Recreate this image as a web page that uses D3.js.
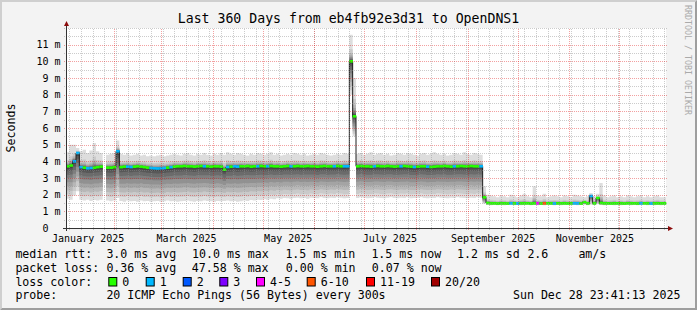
<!DOCTYPE html>
<html><head><meta charset="utf-8">
<script src="https://cdn.jsdelivr.net/npm/d3@7"></script>
<style>
html,body{margin:0;padding:0;background:#f3f3f3;}
svg{display:block;}
text{font-family:"DejaVu Sans Mono",monospace;}
</style></head><body>
<svg id="c" width="697" height="310"></svg>
<script>
// ---------------- data ----------------
const title = "Last 360 Days from eb4fb92e3d31 to OpenDNS1";
const yLabel = "Seconds";
const watermark = "RRDTOOL / TOBI OETIKER";
const endTime = "2025-12-28T23:41:13Z";
const spanDays = 360;
const bucketDays = 2;
const monthLabels = ["January 2025","March 2025","May 2025","July 2025","September 2025","November 2025"];
const monthLabelDates = ["2025-01-16","2025-03-16","2025-05-16","2025-07-16","2025-09-16","2025-11-16"];
const yTicks = [0,1,2,3,4,5,6,7,8,9,10,11];
const yTickLabels = ["0","1 m","2 m","3 m","4 m","5 m","6 m","7 m","8 m","9 m","10 m","11 m"];

// median rtt per 2-day bucket (ms), null = no data
const median = [
3.70,3.75,4.00,4.50,3.65,3.62,3.58,3.60,3.62,3.65,
3.68,null,3.62,3.62,3.65,4.60,3.65,3.68,3.68,3.66,
3.68,3.70,3.68,3.65,3.62,3.60,3.58,3.57,3.58,3.60,
3.62,3.65,3.68,3.70,3.70,3.72,3.70,3.70,3.68,3.70,
3.72,3.70,3.70,3.68,3.70,3.70,3.68,3.50,3.66,3.68,
3.70,3.68,3.70,3.70,3.72,3.68,3.70,3.70,3.72,3.70,
3.70,3.72,3.70,3.70,3.68,3.70,3.72,3.70,3.70,3.72,
3.70,3.70,3.72,3.70,3.70,3.68,3.70,3.72,3.70,3.70,
3.70,3.72,3.70,3.70,3.70,10.0,6.70,3.70,3.72,3.70,
3.70,3.68,3.70,3.72,3.70,3.70,3.72,3.70,3.68,3.70,
3.70,3.72,3.70,3.68,3.66,3.68,3.70,3.70,3.68,3.66,
3.68,3.70,3.70,3.72,3.70,3.68,3.70,3.70,3.72,3.70,
3.70,3.72,3.70,3.70,3.70,1.84,1.50,1.48,1.48,1.47,
1.48,1.48,1.47,1.48,1.48,1.47,1.48,1.48,1.48,1.47,
1.48,1.48,1.47,1.48,1.48,1.48,1.47,1.48,1.48,1.48,
1.47,1.48,1.48,1.48,1.47,1.55,1.48,1.92,1.48,1.80,
1.50,1.48,1.48,1.47,1.48,1.48,1.48,1.47,1.48,1.48,
1.48,1.47,1.48,1.48,1.48,1.47,1.48,1.48,1.48,1.48];

// lost pings (of 20) per bucket
const loss = [
0,0,1,1,1,0,1,1,0,0, 0,0,0,0,0,1,0,0,1,1,
0,0,0,0,0,1,1,1,1,1, 0,1,0,0,0,0,0,0,0,0,
0,1,0,0,0,0,0,0,1,0, 1,1,0,0,0,0,0,1,0,0,
1,0,0,0,0,0,0,1,0,0, 0,0,0,0,0,0,0,0,0,0,
1,0,0,1,1,0,0,0,0,0, 0,0,1,0,0,0,0,0,0,0,
1,0,0,0,1,0,0,0,1,0, 0,0,0,0,0,0,1,0,0,0,
0,0,0,0,1,0,0,0,0,0, 0,0,0,1,0,1,0,0,0,0,
0,4,0,7,0,0,1,0,0,0, 0,0,1,1,0,0,0,1,0,0,
0,0,0,0,0,0,0,0,0,0, 0,0,1,0,0,1,0,0,0,0];

// slowest ping per bucket (ms)
const smokeTop = [
4.55,5.00,5.00,4.80,4.60,4.70,4.50,4.65,5.10,4.60,
4.50,null,4.40,4.45,4.50,5.25,4.45,4.40,4.50,4.35,
4.40,4.45,4.35,4.40,4.30,4.35,4.30,4.35,4.40,4.30,
4.35,4.40,4.45,4.40,4.35,4.45,4.50,4.40,4.35,4.45,
4.40,4.50,4.40,4.35,4.45,4.40,4.50,4.40,4.55,4.45,
4.40,4.50,4.45,4.40,4.35,4.45,4.40,4.50,4.45,4.40,
4.45,4.55,4.40,4.45,4.35,4.40,4.45,4.40,4.50,4.45,
4.40,4.45,4.35,4.40,4.45,4.40,4.50,4.45,4.40,4.35,
4.40,4.45,4.40,4.50,4.45,11.60,9.00,4.45,4.50,4.40,
4.45,4.55,4.40,4.45,4.50,4.40,4.45,4.35,4.40,4.50,
4.45,4.40,4.50,4.45,4.40,4.35,4.45,4.50,4.40,4.45,
4.55,4.45,4.40,4.45,4.35,4.40,4.50,4.45,4.40,4.55,
4.45,4.40,4.50,4.45,4.40,2.50,2.00,1.95,1.90,1.85,
1.95,1.90,1.85,2.00,1.90,1.85,1.95,2.05,1.90,1.85,
2.50,1.95,1.90,2.05,1.85,1.90,1.95,1.90,1.85,1.95,
1.90,1.85,2.00,1.95,1.90,1.85,1.90,2.10,1.90,2.05,
2.70,1.95,1.85,1.90,1.95,1.85,1.90,1.85,1.95,1.90,
1.85,1.90,1.95,1.85,1.90,1.85,1.90,1.95,1.85,1.85];

// fastest ping per bucket (ms)
const smokeBottom = [
1.75,1.70,1.95,2.20,1.70,1.65,1.70,1.62,1.68,1.65,
1.70,null,1.65,1.60,1.65,1.80,1.62,1.58,1.65,1.60,
1.62,1.58,1.65,1.60,1.62,1.58,1.60,1.62,1.58,1.60,
1.65,1.60,1.62,1.58,1.60,1.62,1.65,1.60,1.58,1.62,
1.60,1.65,1.62,1.60,1.58,1.62,1.60,1.62,1.65,1.60,
1.62,1.58,1.60,1.65,1.62,1.68,1.65,1.70,1.68,1.72,
1.70,1.75,1.72,1.78,1.75,1.80,1.78,1.75,1.80,1.82,
1.78,1.80,1.75,1.82,1.80,1.78,1.85,1.80,1.78,1.82,
1.80,1.85,1.82,1.78,1.80,8.00,5.50,1.80,1.85,1.82,
1.78,1.80,1.85,1.82,1.80,1.78,1.82,1.85,1.80,1.78,
1.82,1.80,1.85,1.78,1.80,1.82,1.85,1.80,1.78,1.82,
1.80,1.85,1.82,1.80,1.78,1.82,1.80,1.85,1.82,1.80,
1.78,1.82,1.80,1.85,1.82,1.45,1.38,1.36,1.38,1.36,
1.38,1.36,1.38,1.40,1.36,1.38,1.36,1.38,1.40,1.36,
1.38,1.36,1.38,1.36,1.40,1.38,1.36,1.38,1.36,1.38,
1.40,1.36,1.38,1.36,1.38,1.40,1.36,1.40,1.38,1.42,
1.38,1.36,1.38,1.40,1.36,1.38,1.36,1.38,1.40,1.36,
1.38,1.36,1.38,1.40,1.36,1.38,1.36,1.38,1.36,1.38];

// typical spread of the inner pings: share of the way from the median to the fastest (p2..p10) / slowest (p11..p19)
const lowerShape = [0.87,0.74,0.61,0.49,0.36,0.26,0.15,0.08,0.03];
const upperShape = [0.02,0.04,0.06,0.09,0.12,0.16,0.22,0.30,0.45];

const lossBins = ["0","1","2","3","4-5","6-10","11-19","20/20"];
const lossBinMax = [0,1,2,3,5,10,19,20];
const lossColors = ["#26ff00","#00b8ff","#0059ff","#7e00ff","#ff00ff","#ff5500","#ff0000","#a10000"];

const medianStats = ["3.0 ms avg","10.0 ms max","1.5 ms min","1.5 ms now","1.2 ms sd","2.6","am/s"];
const lossStats = ["0.36 % avg","47.58 % max","0.00 % min","0.07 % now"];
const probeText = "20 ICMP Echo Pings (56 Bytes) every 300s";
const stampText = "Sun Dec 28 23:41:13 2025";

// ---------------- drawing ----------------
const W = 697, H = 310;
const svg = d3.select("#c");
const FONT = "'DejaVu Sans Mono', monospace";

svg.append("rect").attr("width",W).attr("height",H).attr("fill","#f3f3f3");
svg.append("path").attr("d",`M0,0H${W}L${W-2},2H2V${H-2}L0,${H}Z`).attr("fill","#cfcfcf");
svg.append("path").attr("d",`M${W},0V${H}H0L2,${H-2}H${W-2}V2Z`).attr("fill","#9e9e9e");

const endDate = new Date(endTime);
const startDate = new Date(endDate.getTime() - spanDays*864e5);
const X0 = 66, X1 = 666, Y0 = 228, Y1 = 28;
const x = d3.scaleUtc().domain([startDate, endDate]).range([X0, X1]);
const y = d3.scaleLinear().domain([0, 12]).range([Y0, Y1]);

svg.append("rect").attr("x",X0).attr("y",Y1).attr("width",X1-X0).attr("height",Y0-Y1).attr("fill","#ffffff");

const tAt = i => new Date(startDate.getTime() + i*bucketDays*864e5);

// build bucket edge points
const pts = [];
median.forEach((m,i) => {
  if (m == null) { pts.push({def:false}); return; }
  const lo = smokeBottom[i], hi = smokeTop[i];
  const p = [lo];
  lowerShape.forEach(f => p.push(m - f*(m-lo)));
  upperShape.forEach(f => p.push(m + f*(hi-m)));
  p.push(hi);
  const o = {def:true, m, p, loss: loss[i]};
  pts.push(Object.assign({t:tAt(i)}, o));
  pts.push(Object.assign({t:tAt(i+1)}, o));
});

// smoke bands
const gSmoke = svg.append("g");
const half = 10;
for (let k = 0; k < half; k++) {
  const c = Math.round(190/half*(half-1-k)+50);
  const col = d3.rgb(c,c,c).formatHex();
  const area = d3.area()
    .defined(d => d.def)
    .x(d => x(d.t))
    .y0(d => y(d.p[k]))
    .y1(d => y(d.p[19-k]));
  gSmoke.append("path").attr("d", area(pts)).attr("fill", col);
}

// dark median line
const line = d3.line().defined(d => d.def).x(d => x(d.t)).y(d => y(d.m));
svg.append("path").attr("d", line(pts)).attr("fill","none").attr("stroke","#202020").attr("stroke-width",1);

// loss-coloured median
function lossColor(l) {
  for (let j = 0; j < lossBinMax.length; j++) if (l <= lossBinMax[j]) return lossColors[j];
  return lossColors[lossColors.length-1];
}
const gMed = svg.append("g");
median.forEach((m,i) => {
  if (m == null) return;
  const xa = x(tAt(i)), xb = x(tAt(i+1));
  gMed.append("rect").attr("x",xa).attr("width",xb-xa+0.3)
    .attr("y",y(m)-1.3).attr("height",2.6).attr("fill",lossColor(loss[i]));
});

// grid (drawn over the data, translucent like rrdtool)
const gGrid = svg.append("g");
const minorCol = "rgba(143,143,143,0.45)", majorCol = "rgba(223,0,0,0.37)";
d3.utcSunday.range(startDate, endDate).forEach(d => {
  const xx = Math.round(x(d))+0.5;
  gGrid.append("line").attr("x1",xx).attr("x2",xx).attr("y1",Y0+2).attr("y2",Y1)
    .attr("stroke",minorCol).attr("stroke-dasharray","1,1");
});
for (let v = 0.5; v <= 12; v += 0.5) {
  if (Number.isInteger(v) && v < 12) continue;
  const yy = Math.round(y(v))+0.5;
  gGrid.append("line").attr("x1",X0-2).attr("x2",X1+1).attr("y1",yy).attr("y2",yy)
    .attr("stroke",minorCol).attr("stroke-dasharray","1,1");
}
d3.utcMonth.range(startDate, endDate).forEach(d => {
  const xx = Math.round(x(d))+0.5;
  gGrid.append("line").attr("x1",xx).attr("x2",xx).attr("y1",Y0+2).attr("y2",Y1)
    .attr("stroke",majorCol).attr("stroke-dasharray","1,1");
});
yTicks.filter(v => v > 0).forEach(v => {
  const yy = Math.round(y(v))+0.5;
  gGrid.append("line").attr("x1",X0-2).attr("x2",X1+1).attr("y1",yy).attr("y2",yy)
    .attr("stroke",majorCol).attr("stroke-dasharray","1,1");
});

// axes
const axCol = "#333333", arrowCol = "#8c0c0c";
svg.append("line").attr("x1",X0-3).attr("x2",X1+3).attr("y1",Y0+0.5).attr("y2",Y0+0.5).attr("stroke",axCol);
svg.append("line").attr("x1",X0+0.5).attr("x2",X0+0.5).attr("y1",Y0+3).attr("y2",Y1-4).attr("stroke",axCol);
svg.append("path").attr("d",`M${X1+2},${Y0-2}L${X1+7},${Y0+0.5}L${X1+2},${Y0+3}Z`).attr("fill",arrowCol);
svg.append("path").attr("d",`M${X0-2},${Y1-2}L${X0+0.5},${Y1-7}L${X0+3},${Y1-2}Z`).attr("fill",arrowCol);

const xAxis = d3.axisBottom(x)
  .tickValues(monthLabelDates.map(s => new Date(s+"T00:00:00Z")))
  .tickFormat((d,i) => monthLabels[i]).tickSize(0).tickPadding(6.4);
const gx = svg.append("g").attr("transform",`translate(0,${Y0})`).call(xAxis);
gx.select(".domain").remove();
gx.selectAll("text").attr("font-family",FONT).attr("font-size","10px").attr("fill","#000");

const yAxis = d3.axisLeft(y).tickValues(yTicks)
  .tickFormat((d,i) => yTickLabels[i]).tickSize(0).tickPadding(5.4);
const gy = svg.append("g").attr("transform",`translate(${X0},0)`).call(yAxis);
gy.select(".domain").remove();
gy.selectAll("text").attr("font-family",FONT).attr("font-size","10px").attr("fill","#000")
  .attr("dx",(d,i) => yTickLabels[i].indexOf(" ") < 0 ? -12 : 0);

// titles
svg.append("text").attr("x",348.5).attr("y",23).attr("text-anchor","middle")
  .attr("font-family",FONT).attr("font-size","13.2px").text(title);
svg.append("text").attr("transform","translate(15,128) rotate(-90)").attr("text-anchor","middle")
  .attr("font-family",FONT).attr("font-size","11.6px").text(yLabel);
svg.append("text").attr("transform","translate(684.5,5) rotate(90)")
  .attr("font-family",FONT).attr("font-size","8.3px").attr("fill","#aaaaaa").text(watermark);

// legend
const LF = "11.6px";
function lt(txt, xx, yy, anchor) {
  svg.append("text").attr("x",xx).attr("y",yy).attr("font-family",FONT).attr("font-size",LF)
    .attr("text-anchor",anchor||"start").attr("xml:space","preserve").text(txt);
}
const r1 = 258, r2 = 271.8, r3 = 285.6, r4 = 299.4;
lt("median rtt:", 15.4, r1);
[106.4,192.0,285.4,371.4,457.0,527.4,578.4].forEach((xx,i) => lt(medianStats[i], xx, r1));
lt("packet loss:", 15.4, r2);
[106.4,191.8,285.8,371.8].forEach((xx,i) => lt(lossStats[i], xx, r2));
lt("loss color:", 15.4, r3);
const boxX = [108.3,145.7,182.7,219.3,256,306.7,366,431];
lossBins.forEach((b,i) => {
  svg.append("rect").attr("x",boxX[i]+0.5).attr("y",277.5).attr("width",8).attr("height",8.5)
    .attr("fill",lossColors[i]).attr("stroke","#000").attr("stroke-width",1);
  lt(b, boxX[i]+14, r3);
});
lt("probe:", 15.4, r4);
lt(probeText, 106.4, r4);
lt(stampText, 680.5, r4, "end");
</script>
</body></html>
